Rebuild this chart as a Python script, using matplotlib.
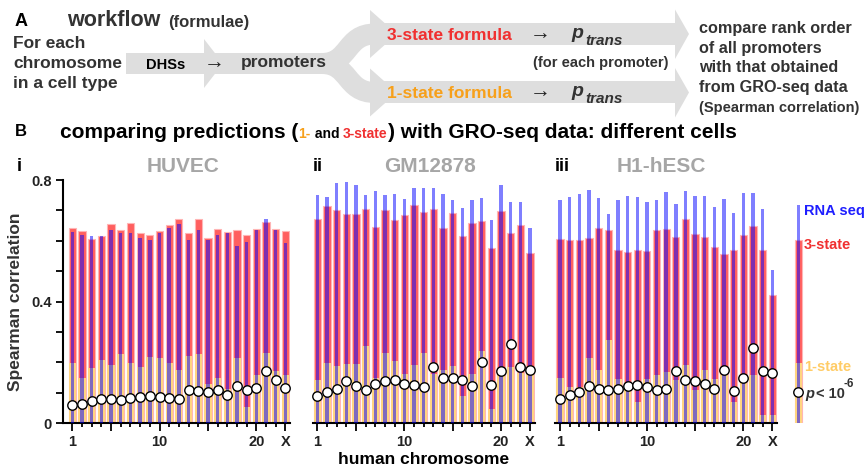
import matplotlib
matplotlib.use('Agg')
import matplotlib.pyplot as plt
from matplotlib.patches import Polygon, PathPatch, Rectangle
from matplotlib.path import Path
import numpy as np

plt.rcParams['font.family'] = ['Liberation Sans', 'DejaVu Sans']
plt.rcParams['font.weight'] = 'bold'
plt.rcParams['axes.labelweight'] = 'bold'

# ---- data ----
chrom_labels = {1: '1', 10: '10', 20: '20', 23: 'X'}
major_chroms = [1, 5, 10, 15, 20, 23]
chroms = np.arange(1, 24)

huvec_3state = [0.641, 0.631, 0.606, 0.616, 0.656, 0.637, 0.660, 0.627, 0.620, 0.632, 0.651, 0.670,
                0.626, 0.671, 0.610, 0.640, 0.629, 0.636, 0.620, 0.638, 0.663, 0.638, 0.631]
huvec_rnaseq = [0.630, 0.620, 0.616, 0.614, 0.637, 0.627, 0.624, 0.610, 0.604, 0.627, 0.643, 0.656,
                0.604, 0.637, 0.601, 0.620, 0.624, 0.584, 0.597, 0.637, 0.672, 0.637, 0.591]
huvec_1state = [0.196, 0.147, 0.180, 0.208, 0.190, 0.226, 0.198, 0.186, 0.217, 0.213, 0.199, 0.175,
                0.222, 0.228, 0.128, 0.148, 0.113, 0.215, 0.052, 0.157, 0.231, 0.171, 0.159]
huvec_p6 = [0.058, 0.064, 0.071, 0.080, 0.078, 0.075, 0.081, 0.087, 0.090, 0.085, 0.083, 0.080,
            0.110, 0.104, 0.101, 0.107, 0.091, 0.123, 0.107, 0.115, 0.172, 0.142, 0.114]

gm_3state = [0.671, 0.715, 0.701, 0.689, 0.689, 0.705, 0.646, 0.701, 0.667, 0.686, 0.718, 0.695,
             0.703, 0.642, 0.693, 0.617, 0.660, 0.666, 0.577, 0.698, 0.625, 0.652, 0.559]
gm_rnaseq = [0.749, 0.744, 0.791, 0.794, 0.785, 0.752, 0.765, 0.749, 0.755, 0.738, 0.774, 0.775,
             0.774, 0.754, 0.734, 0.708, 0.735, 0.740, 0.669, 0.785, 0.728, 0.727, 0.642]
gm_1state = [0.142, 0.197, 0.189, 0.195, 0.195, 0.254, 0.147, 0.231, 0.204, 0.162, 0.190, 0.232,
             0.161, 0.173, 0.189, 0.088, 0.162, 0.238, 0.045, 0.173, 0.183, 0.164, 0.171]
gm_p6 = [0.090, 0.101, 0.112, 0.139, 0.121, 0.110, 0.127, 0.137, 0.140, 0.129, 0.124, 0.119,
         0.185, 0.149, 0.148, 0.142, 0.121, 0.201, 0.125, 0.171, 0.261, 0.184, 0.173]

h1_3state = [0.605, 0.603, 0.603, 0.608, 0.642, 0.635, 0.568, 0.563, 0.568, 0.567, 0.635, 0.639,
             0.611, 0.671, 0.623, 0.611, 0.581, 0.555, 0.568, 0.620, 0.648, 0.571, 0.420]
h1_rnaseq = [0.734, 0.744, 0.754, 0.767, 0.741, 0.688, 0.734, 0.747, 0.744, 0.728, 0.734, 0.761,
             0.721, 0.764, 0.747, 0.747, 0.711, 0.738, 0.692, 0.757, 0.757, 0.705, 0.504]
h1_1state = [0.147, 0.118, 0.119, 0.215, 0.176, 0.274, 0.146, 0.132, 0.070, 0.145, 0.157, 0.168,
             0.140, 0.192, 0.107, 0.176, 0.146, 0.159, 0.070, 0.152, 0.159, 0.027, 0.025]
h1_p6 = [0.080, 0.093, 0.103, 0.123, 0.112, 0.107, 0.112, 0.123, 0.124, 0.118, 0.110, 0.113,
         0.170, 0.142, 0.139, 0.129, 0.113, 0.176, 0.106, 0.149, 0.247, 0.172, 0.164]

# legend bar: rna seq, 3-state, 1-state, p<1e-6
legend_vals = [0.718, 0.602, 0.199, 0.102]

RED = '#FF5F5F'
RED_EDGE = '#FFB5B5'
YEL = '#FFD480'
BLUE = '#0000FF'
ARROW = '#DEDEDE'
TXT = '#333333'
RED_TXT = '#F03030'
ORA_TXT = '#F7A01A'

W, H = 868, 469
fig = plt.figure(figsize=(W / 100, H / 100), dpi=100)

# background axes in pixel coords (y down) for the workflow + headings
bg = fig.add_axes([0, 0, 1, 1])
bg.set_xlim(0, W)
bg.set_ylim(H, 0)
bg.axis('off')

# ---- workflow arrows ----
bg.add_patch(Polygon([(126, 53), (204, 53), (204, 39), (223, 63.5), (204, 88), (204, 74), (126, 74)],
                     closed=True, fc=ARROW, ec='none'))
bg.add_patch(Rectangle((204, 53), 126, 21, fc=ARROW, ec='none'))
lw_pt = 21 * 72 / 100
for yb in (34, 92.5):
    p = Path([(322, 63.5), (350, 63.5), (345, yb), (375, yb)],
             [Path.MOVETO, Path.CURVE4, Path.CURVE4, Path.CURVE4])
    bg.add_patch(PathPatch(p, fc='none', ec=ARROW, lw=lw_pt, capstyle='butt'))
    bg.add_patch(Rectangle((372, yb - 11), 304, 22, fc=ARROW, ec='none'))
    bg.add_patch(Polygon([(370, yb - 24), (397, yb), (370, yb + 24)], closed=True, fc=ARROW, ec='none'))
    bg.add_patch(Polygon([(675, yb - 24.5), (689, yb), (675, yb + 25)], closed=True, fc=ARROW, ec='none'))

# ---- workflow text ----
bg.text(15, 21, 'A', fontsize=13, color='black', va='center')
bg.text(67, 21, 'workflow', fontsize=15.5, color=TXT, va='center')
bg.text(168, 22, '(formulae)', fontsize=12, color=TXT, va='center')
for txt, yc in (('For each', 44), ('chromosome', 64), ('in a cell type', 83.5)):
    bg.text(13, yc, txt, fontsize=12.5, color=TXT, va='center')
bg.text(146, 65, 'DHSs', fontsize=10.5, color='black', va='center')
bg.text(204, 63, '\u2192', fontsize=15, color='#222222', va='center', fontweight='normal')
bg.text(241, 63, 'promoters', fontsize=12.5, color=TXT, va='center')
for txt, col, yc in (('3-state formula', RED_TXT, 35), ('1-state formula', ORA_TXT, 93)):
    bg.text(387, yc, txt, fontsize=12.5, color=col, va='center')
    bg.text(530, yc - 1, '\u2192', fontsize=15, color='#222222', va='center', fontweight='normal')
    bg.text(571, yc - 2, 'p', fontsize=14, color=TXT, va='center', style='italic')
    bg.text(585, yc + 6, 'trans', fontsize=11, color=TXT, va='center', style='italic')
bg.text(533, 63, '(for each promoter)', fontsize=10.5, color=TXT, va='center')
for txt, yc in (('compare rank order', 28), ('of all promoters', 48),
                ('with that obtained', 68), ('from GRO-seq data', 87.5)):
    bg.text(699, yc, txt, fontsize=11.7, color=TXT, va='center')
bg.text(699, 108, '(Spearman correlation)', fontsize=10.5, color=TXT, va='center')

# ---- heading B ----
bg.text(15, 132, 'B', fontsize=12, color='black', va='center')
fig.canvas.draw()
rend = fig.canvas.get_renderer()
x = 60
for txt, size, col in (('comparing predictions (', 15, 'black'), ('1-', 10, ORA_TXT), (' and ', 10, 'black'),
                       ('3-state', 10, RED_TXT), (') with GRO-seq data: different cells', 15, 'black')):
    t = bg.text(x, 138, txt, fontsize=size, color=col, va='baseline')
    bb = t.get_window_extent(rend)
    x = bg.transData.inverted().transform((bb.x1, bb.y0))[0]

# ---- panels ----
panels = [
    ('i', 'HUVEC', huvec_3state, huvec_1state, huvec_rnaseq, huvec_p6, 62.7, (0.0, 23.45), 9.68, 17, 183),
    ('ii', 'GM12878', gm_3state, gm_1state, gm_rnaseq, gm_p6, 312.7, (0.52, 23.52), 9.668, 313, 430),
    ('iii', 'H1-hESC', h1_3state, h1_1state, h1_rnaseq, h1_p6, 555.0, (0.48, 23.5), 9.65, 555, 661),
]
bottom_px, top_px = 423, 180
for k, (lab, name, s3, s1, rna, p6, left_px, xl, unit, lab_x, name_x) in enumerate(panels):
    wpx = (xl[1] - xl[0]) * unit
    ax = fig.add_axes([left_px / W, (H - bottom_px) / H, wpx / W, (bottom_px - top_px) / H])
    ax.patch.set_alpha(0)
    ax.bar(chroms, s3, width=0.75, color=RED, edgecolor=RED_EDGE, linewidth=0.8, zorder=1)
    ax.bar(chroms, s1, width=0.75, color=YEL, edgecolor='none', zorder=2)
    ax.bar(chroms, rna, width=0.35, color=BLUE, alpha=0.5, edgecolor='none', zorder=3)
    ax.plot(chroms, p6, 'o', ms=6.8, mfc='white', mec='black', mew=1.0, zorder=4, clip_on=False)
    ax.set_xlim(*xl)
    ax.set_ylim(0, 0.8)
    for sp in ('top', 'right'):
        ax.spines[sp].set_visible(False)
    ax.spines['bottom'].set_linewidth(1.5)
    ax.set_xticks(major_chroms)
    ax.set_xticks([c for c in chroms if c not in major_chroms], minor=True)
    ax.set_xticklabels([chrom_labels.get(c, '') for c in major_chroms], fontsize=10.5,
                       color='#222222', fontweight='bold')
    ax.tick_params(axis='x', which='major', length=5.5, width=1.3, pad=3)
    ax.tick_params(axis='x', which='minor', length=3, width=1.3)
    if k == 0:
        ax.spines['left'].set_linewidth(1.5)
        ax.set_yticks([0, 0.4, 0.8])
        ax.set_yticklabels(['0', '0.4', '0.8'], fontsize=10.5, color='#222222', fontweight='bold')
        ax.set_yticks([0.1, 0.2, 0.3, 0.5, 0.6, 0.7], minor=True)
        ax.tick_params(axis='y', which='major', length=5, width=1.3, pad=3)
        ax.tick_params(axis='y', which='minor', length=5, width=1.3)
        ax.set_ylabel('Spearman correlation', fontsize=12.5, color=TXT, labelpad=6, fontweight='bold')
    else:
        ax.spines['left'].set_visible(False)
        ax.set_yticks([])
    if k == 1:
        ax.set_xlabel('human chromosome', fontsize=12.5, color='black', labelpad=2, fontweight='bold')
    bg.text(lab_x, 171, lab, fontsize=13, color='black', va='baseline')
    bg.text(name_x, 172, name, fontsize=15, color='#A6A6A6', va='baseline', ha='center')

# ---- legend bar ----
lax = fig.add_axes([780 / W, (H - bottom_px) / H, 88 / W, (bottom_px - top_px) / H])
lax.set_xlim(0, 88)
lax.set_ylim(0, 0.8)
lax.axis('off')
lx = [18.3]
lax.bar(lx, [legend_vals[1]], width=7.3, color=RED, edgecolor=RED_EDGE, linewidth=0.8, zorder=1)
lax.bar(lx, [legend_vals[2]], width=7.3, color=YEL, edgecolor='none', zorder=2)
lax.bar(lx, [legend_vals[0]], width=3.4, color=BLUE, alpha=0.5, edgecolor='none', zorder=3)
lax.plot(lx, [legend_vals[3]], 'o', ms=6.8, mfc='white', mec='black', mew=1.0, zorder=4, clip_on=False)
lax.text(24, legend_vals[0] - 0.02, 'RNA seq', fontsize=10.5, color='#1F1FFF', va='center')
lax.text(24, legend_vals[1] - 0.015, '3-state', fontsize=10.5, color=RED_TXT, va='center')
lax.text(24, legend_vals[2] - 0.015, '1-state', fontsize=10.5, color='#FFCC66', va='center')
lax.text(25, legend_vals[3] - 0.005, 'p', fontsize=10.5, color=TXT, va='center', style='italic')
lax.text(36, legend_vals[3] - 0.005, '< 10', fontsize=10.5, color=TXT, va='center')
lax.text(64, legend_vals[3] + 0.028, '-6', fontsize=8.5, color=TXT, va='center')

fig.savefig('out.png', dpi=100)
